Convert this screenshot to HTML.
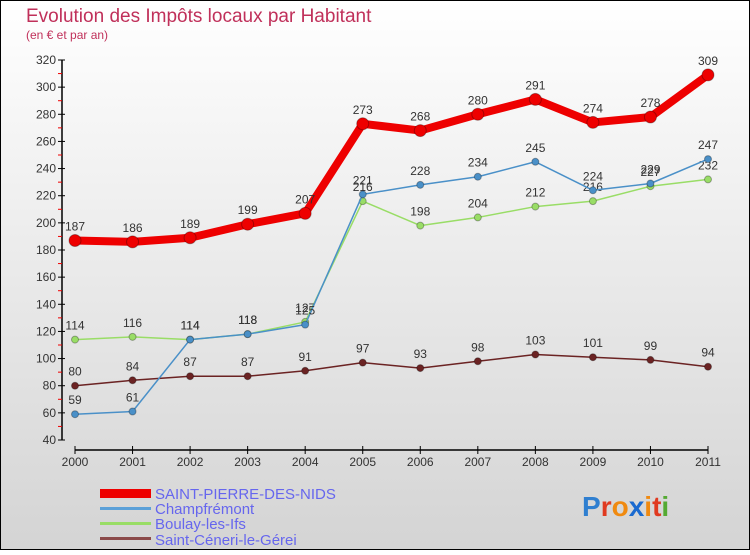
<!DOCTYPE html>
<html><head><meta charset="utf-8"><style>
body{margin:0}
svg text{font-family:"Liberation Sans",sans-serif}
</style></head><body>
<svg width="750" height="550" xmlns="http://www.w3.org/2000/svg">
<defs><linearGradient id="bg" x1="0" y1="0" x2="0" y2="1"><stop offset="0" stop-color="#ffffff"/><stop offset="1" stop-color="#d4d4d4"/></linearGradient></defs>
<rect x="0.5" y="0.5" width="749" height="549" fill="url(#bg)" stroke="#000"/>
<text x="26" y="22" font-size="19" fill="#c0305a">Evolution des Impôts locaux par Habitant</text>
<text x="26" y="39" font-size="12" fill="#c0305a">(en € et par an)</text>
<g id="axes"></g><g id="series"></g>
<g>
<rect x="100" y="489" width="51" height="9" fill="#e00"/>
<text x="155" y="499" font-size="15" fill="#6666ee">SAINT-PIERRE-DES-NIDS</text>
<rect x="100" y="507" width="51" height="3" fill="#5ba0d8"/>
<text x="155" y="514" font-size="15" fill="#6666ee">Champfrémont</text>
<rect x="100" y="522" width="51" height="3" fill="#99dd66"/>
<text x="155" y="529" font-size="15" fill="#6666ee">Boulay-les-Ifs</text>
<rect x="100" y="537" width="51" height="3" fill="#8b4a4a"/>
<text x="155" y="545" font-size="15" fill="#6666ee">Saint-Céneri-le-Gérei</text>
</g>
<g font-size="28" font-weight="bold">
<text x="582" y="516"><tspan fill="#2f7fd0">P</tspan><tspan fill="#e03a20">r</tspan><tspan fill="#f08a10">o</tspan><tspan fill="#1a6ad0">x</tspan><tspan fill="#f08a10">i</tspan><tspan fill="#e03a20">t</tspan><tspan fill="#55aa33">i</tspan></text>
</g>
</svg>
<script>
const years=["2000","2001","2002","2003","2004","2005","2006","2007","2008","2009","2010","2011"];
const yTicks=[40,60,80,100,120,140,160,180,200,220,240,260,280,300,320];
const saintPierre=[187,186,189,199,207,273,268,280,291,274,278,309];
const champfremont=[59,61,114,118,125,221,228,234,245,224,229,247];
const boulay=[114,116,114,118,127,216,198,204,212,216,227,232];
const saintCeneri=[80,84,87,87,91,97,93,98,103,101,99,94];
const NS="http://www.w3.org/2000/svg";
const X=i=>75+i*(633/11);
const Y=v=>440-(v-40)*(380/280);
function mk(t,a,p){const e=document.createElementNS(NS,t);for(const k in a)e.setAttribute(k,a[k]);p.appendChild(e);return e;}
const ax=document.getElementById('axes');
let e=mk('line',{x1:62,y1:60,x2:62,y2:440,stroke:'#000','stroke-width':1.5},ax);


e=mk('line',{x1:75,y1:450,x2:708,y2:450,stroke:'#000','stroke-width':1.5},ax);


yTicks.forEach((v,i)=>{
  mk('line',{x1:58,x2:65,y1:Y(v),y2:Y(v),stroke:'#000'},ax);
  if(i<yTicks.length-1) mk('line',{x1:58,x2:62,y1:Y(v+10),y2:Y(v+10),stroke:'#e00'},ax);
  const t=mk('text',{x:56,y:Y(v)+4,'font-size':12,'text-anchor':'end',fill:'#333'},ax);
  t.textContent=v;
  
  
});
years.forEach((y,i)=>{
  mk('line',{x1:X(i),x2:X(i),y1:446,y2:454,stroke:'#000'},ax);
  const t=mk('text',{x:X(i),y:466,'font-size':12,'text-anchor':'middle',fill:'#333'},ax);
  t.textContent=y;
  
  
});
const sg=document.getElementById('series');
function draw(data,color,w,r,name){
  const g=mk('g',{},sg);
  
  
  const l=mk('polyline',{points:data.map((v,i)=>X(i)+','+Y(v)).join(' '),fill:'none',stroke:color,'stroke-width':w,'stroke-linejoin':'round'},g);
  
  
  data.forEach((v,i)=>{
    const c=mk('circle',{cx:X(i),cy:Y(v),r:r,fill:color,stroke:'rgba(0,0,0,0.3)'},g);
    
    
    const t=mk('text',{x:X(i),y:Y(v)-10,'font-size':12,'text-anchor':'middle',fill:'#333'},g);
    t.textContent=v;
    
    
  });
}
draw(saintCeneri,'#6b2323',1.5,3.5,'saint-ceneri');
draw(boulay,'#99dd66',1.5,3.5,'boulay');
draw(champfremont,'#4a90c8',1.5,3.5,'champfremont');
draw(saintPierre,'#ee0000',8,6,'saint-pierre');
</script>
</body></html>
